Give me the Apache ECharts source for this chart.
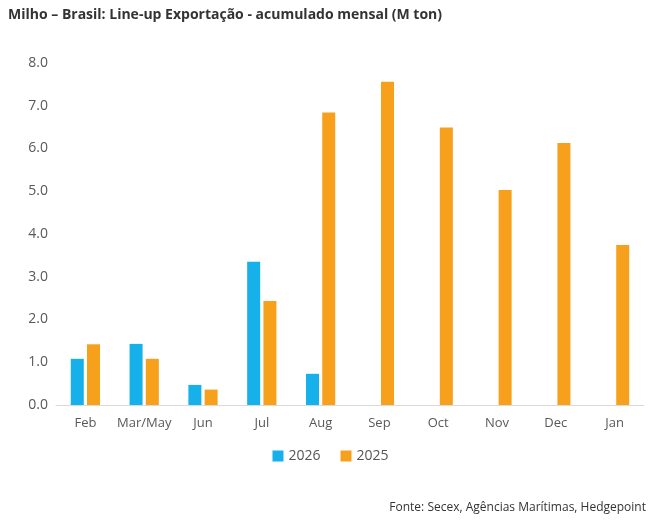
<!DOCTYPE html>
<html>
<head>
<meta charset="utf-8">
<script src="https://cdn.jsdelivr.net/npm/echarts@6/dist/echarts.min.js"></script>
<style>body{margin:0;background:#fff}</style>
</head>
<body>
<div id="main" style="width:661px;height:523px;"></div>
<script>
var categories = ['Feb', 'Mar/May', 'Jun', 'Jul', 'Aug', 'Sep', 'Oct', 'Nov', 'Dec', 'Jan'];
var s2026 = [1.08, 1.43, 0.47, 3.35, 0.73, null, null, null, null, null];
var s2025 = [1.42, 1.08, 0.36, 2.43, 6.84, 7.56, 6.49, 5.03, 6.13, 3.74];

var chart = echarts.init(document.getElementById('main'));
chart.setOption({
  animation: false,
  textStyle: { fontFamily: 'Open Sans' },
  title: [{
    text: 'Milho – Brasil: Line-up Exportação - acumulado mensal (M ton)',
    left: 3, top: 3,
    textStyle: { fontSize: 14, fontWeight: 'bold', color: '#333', fontFamily: 'Open Sans' }
  }, {
    text: 'Fonte: Secex, Agências Marítimas, Hedgepoint',
    right: 10, bottom: 4,
    textStyle: { fontSize: 12, fontWeight: 'normal', color: '#333' }
  }],
  legend: {
    bottom: 55, left: 'center', itemWidth: 11, itemHeight: 11, icon: 'rect', itemGap: 20,
    textStyle: { fontSize: 14, color: '#555' }
  },
  grid: { left: 56, right: 17, top: 63, bottom: 118 },
  xAxis: {
    type: 'category', data: categories,
    axisTick: { show: false },
    axisLine: { lineStyle: { color: '#d9d9d9' } },
    axisLabel: { color: '#595959', fontSize: 13, margin: 12, interval: 0 }
  },
  yAxis: {
    type: 'value', min: 0, max: 8, interval: 1,
    splitLine: { show: false },
    axisLabel: { color: '#595959', fontSize: 14, formatter: function (v) { return v.toFixed(1); } }
  },
  series: [
    { name: '2026', type: 'bar', data: s2026, barWidth: 13, barGap: '25%', itemStyle: { color: '#16b0ea' } },
    { name: '2025', type: 'bar', data: s2025, barWidth: 13, itemStyle: { color: '#f7a01c' } }
  ]
});
</script>
</body>
</html>
